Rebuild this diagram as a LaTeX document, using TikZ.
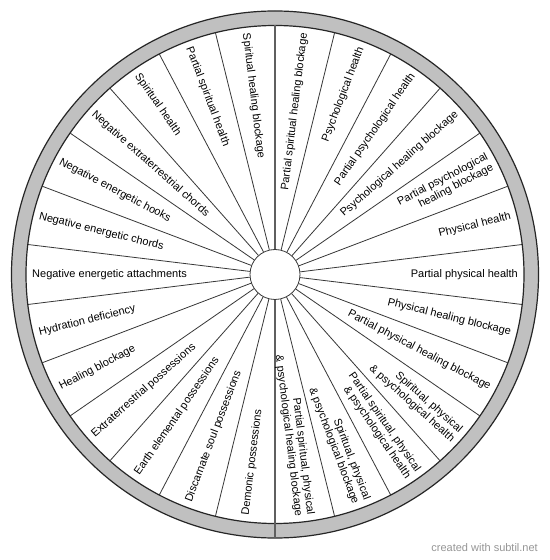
\documentclass[tikz,border=0pt]{standalone}
\usepackage{fontspec}
\setmainfont{Liberation Sans}
\definecolor{rimgray}{RGB}{192,192,192}
\definecolor{spokegray}{RGB}{55,55,55}
\definecolor{axisgray}{RGB}{95,95,95}
\definecolor{markgray}{RGB}{150,150,150}
\newcommand{\labfont}{\fontsize{11bp}{12bp}\selectfont}

\begin{document}
\begin{tikzpicture}[
    x=1bp, y=1bp,
    rim/.style={fill=rimgray, even odd rule},
    rimedge/.style={draw=black!85, line width=1.2bp},
    spoke/.style={draw=spokegray, line width=0.8bp},
    axis/.style={draw=axisgray, line width=1.8bp},
    hub/.style={draw=spokegray, line width=0.8bp, circle, fill=white, minimum size=50bp, inner sep=0pt},
    leftlab/.style={anchor=west, inner sep=0pt, align=left, font=\labfont},
    rightlab/.style={anchor=east, inner sep=0pt, align=right, font=\labfont},
]
% Canvas
\fill[white] (-275,-285.5) rectangle (275,274.5);
\useasboundingbox (-275,-285.5) rectangle (275,274.5);

% Gray rim
\fill[rim] (0,0) circle (263.5) (0,0) circle (249);
\draw[rimedge] (0,0) circle (263.5);
\draw[rimedge] (0,0) circle (249);

% Hub and spokes
\node[hub] (hub) at (0,0) {};
\foreach \k in {1,...,12,14,15,...,25} {
  \pgfmathsetmacro\a{90+\k*360/26}
  \draw[spoke] (hub.\a) -- (\a:249);
}
\coordinate (top) at (90:249);
\coordinate (bottom) at (270:263.5);
\draw[axis] (hub.north) -- (top);
\draw[axis] (hub.south) -- (bottom);

% Left half labels (read towards the hub)
\foreach \txt [count=\k from 0] in {Spiritual healing blockage, Partial spiritual health,
    Spiritual health, Negative extraterrestrial chords, Negative energetic hooks,
    Negative energetic chords, Negative energetic attachments, Hydration deficiency,
    Healing blockage, Extraterrestrial possessions, Earth elemental possessions,
    Discarnate soul possessions, Demonic possessions} {
  \pgfmathsetmacro\a{90+(\k+0.5)*360/26}
  \node[leftlab, rotate=\a+180] (lab\k) at (\a:243) {\txt};
}

% Right half labels (read away from the hub)
\foreach \txt [count=\k from 13] in {{Partial spiritual, physical\\\& psychological healing blockage},
    {Spiritual, physical\\\& psychological blockage},
    {Partial spiritual, physical\\\& psychological health},
    {Spiritual, physical\\\& psychological health},
    Partial physical healing blockage, Physical healing blockage, Partial physical health,
    Physical health, {Partial psychological\\healing blockage}, Psychological healing blockage,
    Partial psychological health, Psychological health, Partial spiritual healing blockage} {
  \pgfmathsetmacro\a{90+(\k+0.5)*360/26}
  \node[rightlab, rotate=\a] (lab\k) at (\a:243) {\txt};
}

% Credit line
\node[anchor=east, inner sep=0pt, text=markgray, font=\labfont] (credit) at (263,-273.5) {created with subtil.net};

\end{tikzpicture}
\end{document}
